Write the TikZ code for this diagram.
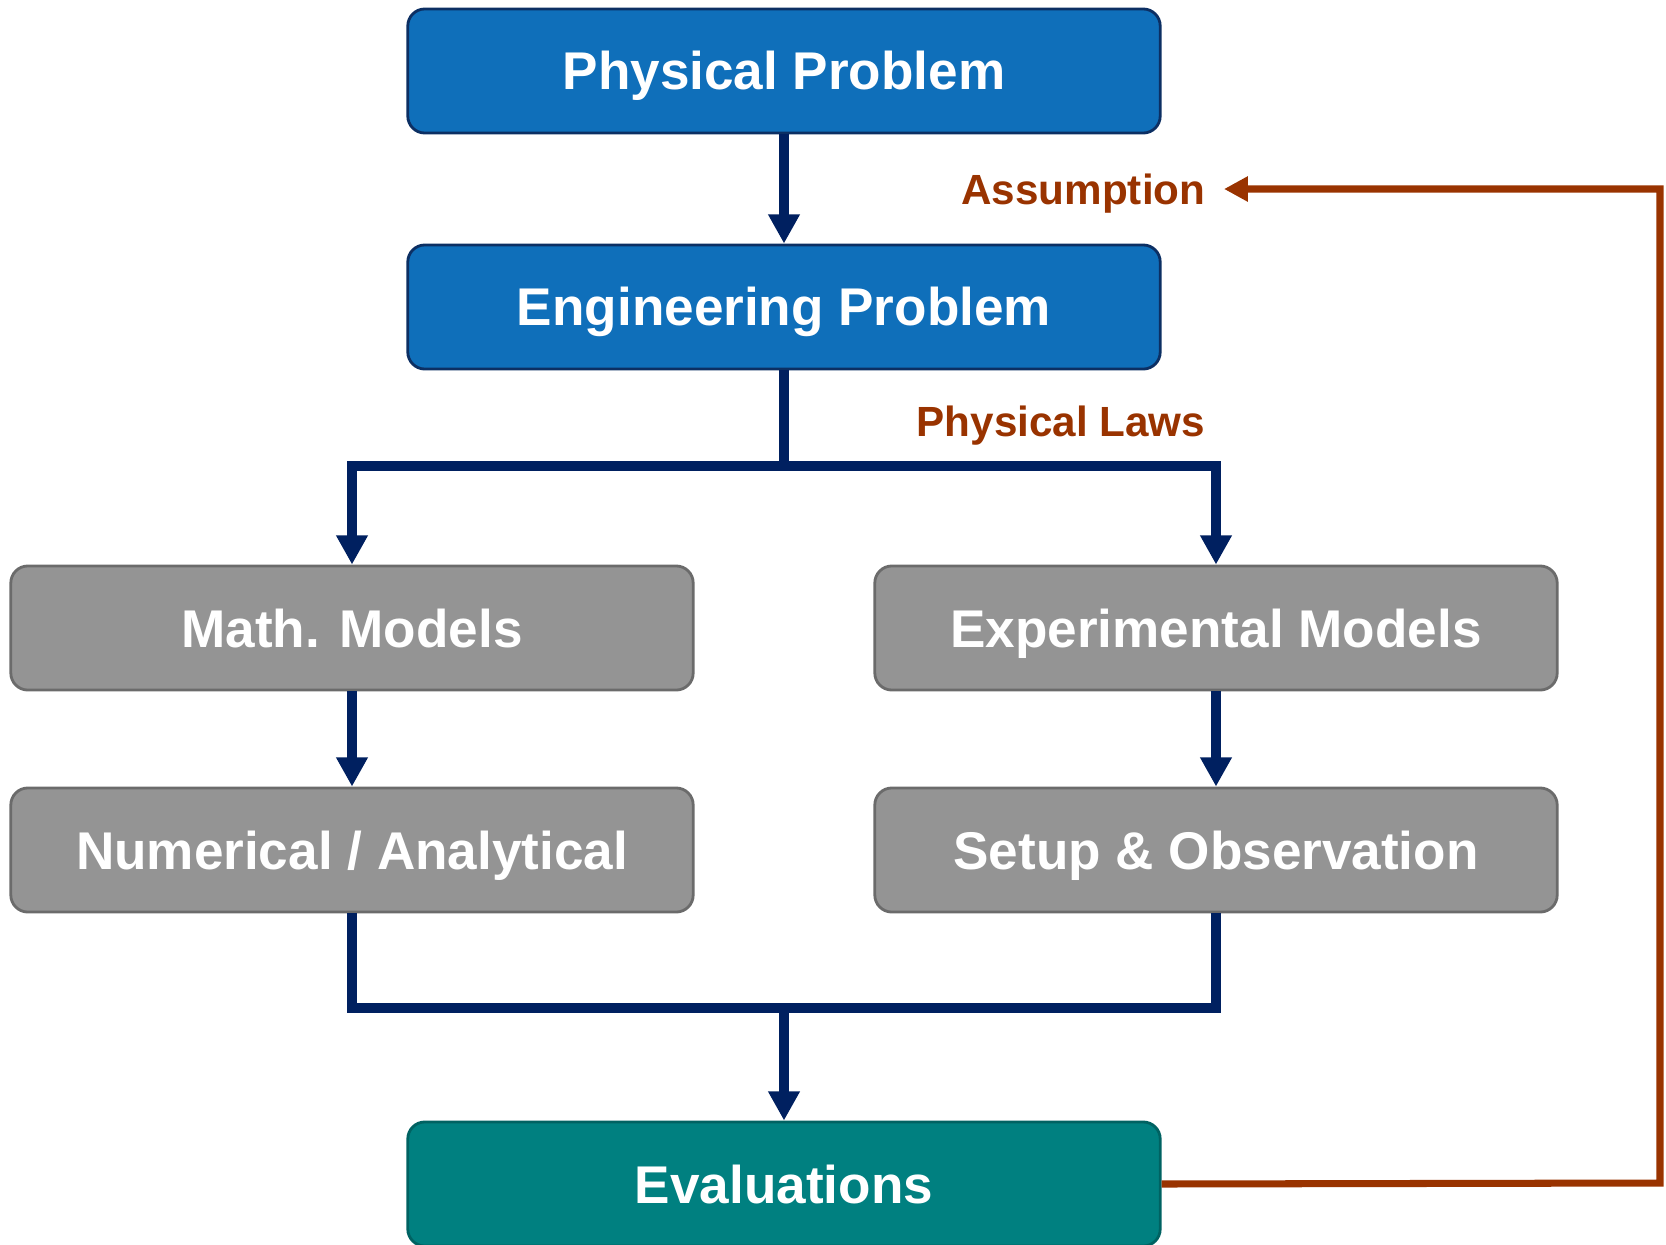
\documentclass[tikz,border=0pt]{standalone}
\usepackage{fontspec}
\setmainfont{Liberation Sans}
\usetikzlibrary{arrows.meta}
\definecolor{probblue}{HTML}{0F6FBA}
\definecolor{probedge}{HTML}{0C2F63}
\definecolor{modgrey}{HTML}{949494}
\definecolor{modedge}{HTML}{6B6B6B}
\definecolor{evalteal}{HTML}{008080}
\definecolor{evaledge}{HTML}{006262}
\definecolor{flownavy}{HTML}{002060}
\definecolor{backrust}{HTML}{993300}
\begin{document}
\begin{tikzpicture}[x=0.01cm,y=-0.01cm,line join=miter,>={Triangle[width=8.5pt,length=8.3pt]}]
	\tikzset{box/.style={draw,line width=0.8pt,rounded corners=0.17cm,minimum height=1.24cm,inner sep=0pt,text height=10.8pt,text depth=0pt,text=white,font=\bfseries\fontsize{15.1}{18}\selectfont},
		prob box/.style={box,fill=probblue,draw=probedge,minimum width=7.52cm},
		model box/.style={box,fill=modgrey,draw=modedge,minimum width=6.82cm},
		eval box/.style={box,fill=evalteal,draw=evaledge,minimum width=7.52cm},
		note/.style={anchor=east,inner sep=0.18cm,text height=8.6pt,text depth=0pt,text=backrust,font=\bfseries\fontsize{12}{14}\selectfont},
		flow/.style={draw=flownavy,line width=2.8pt},
		back/.style={draw=backrust,line width=2pt,-{Triangle[width=6.8pt,length=6.8pt]}}}
	\useasboundingbox (0,0) rectangle (1666,1245);
	\node[prob box] (phys) at (784,71) {Physical Problem};
	\node[prob box] (eng) at (784,307) {Engineering Problem};
	\node[model box] (math) at (352,628) {Math. Models};
	\node[model box] (exp) at (1216,628) {Experimental Models};
	\node[model box] (num) at (352,850) {Numerical / Analytical};
	\node[model box] (setup) at (1216,850) {Setup \& Observation};
	\node[eval box] (eval) at (784,1184) {Evaluations};
	\node[note] (assum) at (1224,189) {Assumption};
	\node[note] (laws) at (1224,421) {Physical Laws};
	\coordinate (split) at (784,466);
	\coordinate (merge) at (784,1008);
	\coordinate (turn) at (1660,1183);
	% main flow
	\draw[flow,->] (phys) -- (eng);
	\draw[flow] (eng) -- (split);
	\draw[flow,->] (split) -| (math);
	\draw[flow,->] (split) -| (exp);
	\draw[flow,->] (math) -- (num);
	\draw[flow,->] (exp) -- (setup);
	\draw[flow] (num) |- (merge);
	\draw[flow] (setup) |- (merge);
	\draw[flow,->] (merge) -- (eval);
	% feedback
	\draw[back] (eval.east) -- (turn) |- (assum.east);
\end{tikzpicture}
\end{document}
